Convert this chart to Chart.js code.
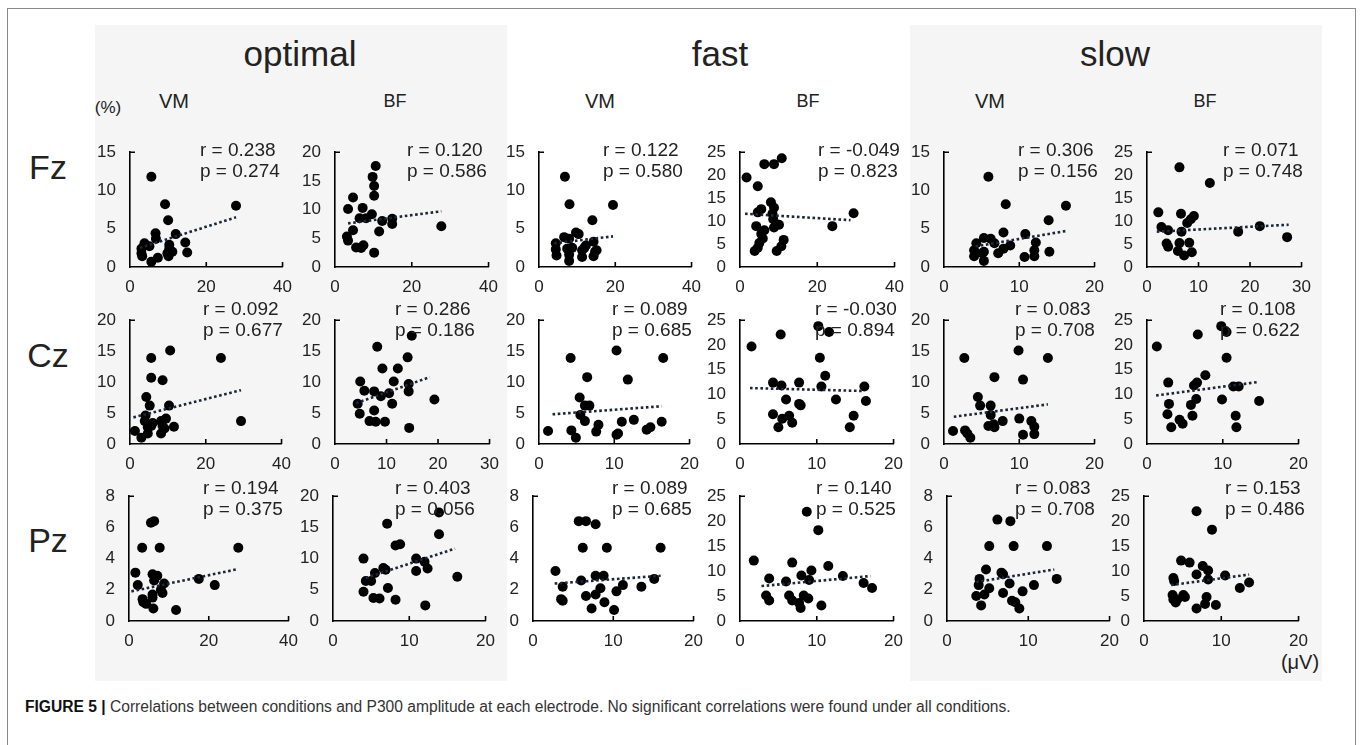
<!DOCTYPE html>
<html>
<head>
<meta charset="utf-8">
<script src="https://cdn.jsdelivr.net/npm/chart.js@4"></script>
<style>
  html, body { margin: 0; padding: 0; background: #fff; }
  body { width: 1360px; height: 745px; position: relative; overflow: hidden;
         font-family: "Liberation Sans", Arial, sans-serif; color: #222; }
  .abs { position: absolute; white-space: nowrap; line-height: 1; }
  .ctr { transform: translate(-50%, -50%); }
  .band { position: absolute; background: #f5f5f5; }
  .frame { position: absolute; left: 7px; top: 8px; width: 1347px; height: 760px; border: 1px solid #8a8a8a; }
  .note { position: absolute; font-size: 19px; line-height: 21px; white-space: nowrap; color: #222; }
  .panel { position: absolute; }
</style>
</head>
<body>
<div class="frame"></div>
<div class="band" style="left:95px; top:25px; width:412px; height:656px;"></div>
<div class="band" style="left:910px; top:25px; width:412px; height:656px;"></div>
<div id="fig"></div>

<script>
// ---- values ----
const conditions = ["optimal", "fast", "slow"];
const muscles = ["VM", "BF"];
const electrodes = ["Fz", "Cz", "Pz"];

// Fz row: [x (µV), y (%)]
const fzOptVM = [[5.6,11.8],[9.2,8.2],[27.8,8.0],[10.0,6.1],[6.7,4.4],[12.0,4.3],[6.8,3.7],[14.5,3.2],[3.8,3.1],[3.0,2.4],[3.0,1.8],[3.2,1.4],[10.3,2.9],[10.3,2.4],[9.8,1.8],[11.1,2.0],[10.1,1.4],[15.0,1.9],[7.3,1.2],[5.6,0.7],[5.1,2.7]];
const fzOptBF = [[10.6,17.6],[9.8,15.7],[10.2,14.1],[10.2,12.4],[4.7,12.1],[3.4,10.1],[7.2,10.3],[9.6,9.2],[6.4,8.5],[8.1,8.5],[12.3,8.0],[14.9,8.4],[14.9,7.5],[27.7,7.1],[11.5,6.2],[4.7,6.4],[3.1,5.3],[3.4,4.6],[5.5,3.4],[6.8,3.3],[7.4,3.8],[10.2,2.5]];
const fzFastVM = [[6.8,11.8],[8.0,8.2],[19.4,8.1],[14.0,6.1],[9.7,4.5],[10.4,4.3],[6.6,3.9],[7.9,3.7],[4.4,3.1],[14.3,3.3],[4.4,2.3],[4.6,1.5],[7.4,2.4],[8.7,2.5],[7.9,1.6],[11.3,2.2],[11.9,2.5],[11.3,1.3],[14.7,2.0],[14.3,1.4],[15.1,2.2],[7.9,0.8],[12.3,2.8]];
const fzFastBF = [[1.7,19.5],[4.6,17.6],[6.3,22.4],[8.8,22.4],[10.8,23.7],[8.0,14.1],[8.8,12.9],[5.5,12.6],[4.6,11.9],[8.4,11.6],[8.6,10.4],[29.4,11.7],[23.9,8.9],[4.2,8.9],[6.3,8.0],[10.1,9.2],[8.8,8.6],[5.9,6.2],[11.3,5.9],[5.0,5.2],[4.6,4.2],[3.8,3.5],[10.7,4.5],[9.5,3.5],[5.5,7.2]];
const fzSlowVM = [[5.9,11.8],[8.2,8.2],[16.2,8.0],[13.9,6.1],[7.9,4.5],[10.8,4.3],[5.3,3.8],[6.2,3.7],[6.7,3.1],[4.3,3.1],[12.2,3.2],[4.0,2.2],[5.3,2.0],[7.2,1.8],[7.9,2.4],[8.8,2.8],[4.0,1.4],[5.1,1.8],[10.7,1.3],[12.0,1.4],[12.0,2.2],[14.0,2.0],[5.3,0.8]];
const fzSlowBF = [[6.3,21.7],[12.2,18.3],[2.2,11.9],[6.6,11.6],[9.1,11.1],[8.5,10.4],[7.8,9.6],[2.8,8.7],[4.1,8.0],[6.7,7.7],[17.7,7.7],[21.9,8.9],[27.2,6.5],[3.8,5.1],[4.1,4.4],[6.3,5.2],[8.2,5.3],[6.0,3.5],[7.2,2.5],[8.7,3.2]];

// Cz row
const czOptVM = [[10.6,15.1],[5.6,13.9],[24.0,13.9],[5.6,10.7],[8.6,10.3],[4.3,7.6],[5.2,6.2],[10.3,6.2],[4.1,4.6],[3.9,3.7],[6.0,3.4],[5.6,2.9],[8.2,3.7],[9.5,4.1],[8.6,2.9],[11.6,2.8],[29.3,3.7],[1.3,2.1],[3.0,1.0],[4.7,1.7],[8.2,1.7],[9.1,2.5],[4.7,2.7]];
const czOptBF = [[14.9,17.5],[8.2,15.7],[14.1,14.0],[9.2,12.2],[12.2,12.2],[4.9,10.1],[11.4,10.1],[14.3,9.7],[14.3,8.5],[5.7,8.6],[7.6,8.5],[10.5,8.2],[8.9,7.7],[19.3,7.2],[4.4,6.5],[11.1,6.5],[7.6,5.4],[4.8,4.9],[6.7,3.7],[7.9,3.6],[9.7,3.6],[14.4,2.6]];
const czFastVM = [[4.2,13.9],[10.3,15.1],[16.5,13.9],[6.4,10.8],[11.8,10.4],[5.4,7.5],[6.1,6.2],[6.7,6.2],[5.5,4.7],[6.1,3.7],[11.0,3.6],[12.6,3.9],[16.3,3.6],[1.2,2.1],[4.3,2.2],[4.9,1.0],[7.9,3.1],[7.6,2.0],[10.3,1.5],[10.5,1.7],[14.3,2.3],[14.8,2.7]];
const czFastBF = [[1.5,19.7],[5.3,22.1],[10.2,23.8],[11.6,22.6],[10.4,17.4],[11.1,13.8],[4.3,12.4],[5.4,11.8],[7.7,12.4],[10.6,11.6],[16.2,11.6],[6.0,9.0],[12.5,9.0],[16.4,8.7],[7.7,8.1],[7.9,7.8],[4.3,6.0],[6.4,5.7],[5.5,5.1],[6.8,4.3],[14.8,5.7],[5.0,3.4],[14.3,3.4]];
const czSlowVM = [[2.7,13.9],[9.9,15.1],[13.8,13.9],[6.7,10.8],[10.5,10.4],[4.5,7.6],[4.8,6.2],[6.2,6.2],[6.2,4.7],[10.0,4.1],[7.8,3.7],[11.6,3.7],[5.9,2.9],[6.6,3.2],[6.7,2.7],[12.0,2.8],[1.2,2.1],[2.8,2.2],[3.1,1.7],[3.5,1.0],[10.5,1.5],[12.0,1.6]];
const czSlowBF = [[1.3,19.7],[6.7,22.1],[9.8,23.8],[10.5,22.6],[10.5,17.4],[7.7,13.9],[2.8,12.4],[6.6,12.4],[6.2,11.8],[11.4,11.6],[12.1,11.6],[2.9,8.1],[6.5,9.1],[9.9,9.0],[14.8,8.7],[5.8,7.9],[2.7,6.0],[6.0,5.7],[11.7,5.7],[4.3,4.9],[4.7,4.1],[3.2,3.4],[11.8,3.4]];

// Pz row
const pzOptVM = [[5.5,6.3],[6.3,6.4],[3.3,4.7],[7.7,4.7],[27.4,4.7],[1.6,3.1],[5.9,3.0],[7.1,2.9],[6.3,2.6],[8.8,2.4],[17.5,2.7],[21.5,2.3],[2.2,2.3],[8.0,2.0],[8.4,1.8],[5.9,1.7],[5.9,1.5],[3.4,1.4],[3.6,1.2],[4.3,1.1],[6.1,0.8],[11.8,0.7]];
const pzOptBF = [[13.9,17.4],[7.1,15.6],[13.9,13.9],[8.2,12.1],[8.8,12.3],[4.0,10.0],[10.9,10.0],[12.0,9.5],[12.4,8.4],[10.9,8.0],[6.6,8.5],[5.5,7.7],[16.3,7.1],[4.3,6.4],[5.0,6.4],[4.0,4.7],[7.2,5.3],[5.3,3.7],[6.1,3.6],[8.2,3.4],[12.1,2.5],[6.9,8.2]];
const pzFastVM = [[5.7,6.4],[6.6,6.4],[7.8,6.2],[6.2,4.7],[9.2,4.7],[15.9,4.7],[2.8,3.2],[7.8,2.9],[8.8,2.9],[6.0,2.6],[8.4,2.1],[3.7,2.2],[11.2,2.3],[13.5,2.2],[15.1,2.7],[3.5,1.4],[3.7,1.3],[6.6,1.6],[7.8,1.7],[10.4,1.9],[8.9,1.2],[7.3,0.8],[10.1,0.7]];
const pzFastBF = [[8.7,21.9],[10.2,18.2],[1.8,12.1],[6.8,11.7],[11.5,11.0],[9.3,10.1],[8.0,9.1],[13.4,9.0],[3.8,8.5],[6.0,7.9],[9.0,8.2],[16.1,7.6],[17.2,6.6],[3.4,5.1],[3.8,4.1],[6.4,5.1],[8.3,5.1],[8.9,4.5],[6.8,4.1],[7.7,3.6],[7.9,2.6],[10.6,3.1]];
const pzSlowVM = [[6.2,6.5],[7.8,6.4],[5.2,4.8],[8.2,4.8],[12.3,4.8],[4.8,3.3],[6.7,3.1],[6.9,3.0],[4.0,2.7],[13.5,2.7],[3.9,2.3],[7.7,2.4],[10.7,2.3],[5.2,2.1],[9.3,1.9],[3.6,1.6],[4.6,1.7],[6.9,1.8],[8.0,1.3],[8.4,1.2],[4.2,1.0],[8.9,0.8]];
const pzSlowBF = [[6.8,22.0],[8.8,18.3],[4.8,12.1],[5.9,11.7],[7.6,11.0],[8.3,10.1],[6.8,9.3],[10.5,9.1],[8.3,8.3],[3.8,8.6],[3.9,8.0],[12.4,6.6],[13.6,7.7],[3.7,5.2],[5.1,5.2],[3.8,4.3],[4.1,3.7],[5.3,4.8],[8.1,4.8],[7.9,3.4],[6.8,2.5],[9.3,3.2],[4.3,4.3]];

// dotted trend lines as drawn in the figure: [start, end]
const trends = [
  [[2.6,2.5],[27.8,6.5]], [[3.4,7.6],[27.7,9.7]], [[4.0,3.1],[19.4,4.0]],
  [[1.3,11.6],[28.6,10.2]], [[4.2,2.7],[16.2,4.7]], [[1.9,7.7],[27.5,9.2]],
  [[0.9,4.3],[29.3,8.7]], [[4.1,6.6],[18.4,10.8]], [[1.8,4.8],[16.3,6.1]],
  [[1.3,11.3],[16.2,10.7]], [[1.3,4.4],[13.8,6.4]], [[1.2,9.8],[14.6,12.5]],
  [[0.6,1.9],[26.8,3.3]], [[4.3,6.9],[16.0,11.6]], [[2.7,2.4],[15.9,2.9]],
  [[2.8,7.0],[17.0,9.0]], [[3.6,2.5],[13.2,3.3]], [[3.5,7.2],[13.6,9.3]]
];

const rValues = ["0.238","0.120","0.122","-0.049","0.306","0.071",
                 "0.092","0.286","0.089","-0.030","0.083","0.108",
                 "0.194","0.403","0.089","0.140","0.083","0.153"];
const pValues = ["0.274","0.586","0.580","0.823","0.156","0.748",
                 "0.677","0.186","0.685","0.894","0.708","0.622",
                 "0.375","0.056","0.685","0.525","0.708","0.486"];

// axis ranges: [max, step]
const xAxes = [[40,20],[40,20],[40,20],[40,20],[20,10],[30,10],
               [40,20],[30,10],[20,10],[20,10],[20,10],[20,10],
               [40,20],[20,10],[20,10],[20,10],[20,10],[20,10]];
const yAxes = [[15,5],[20,5],[15,5],[25,5],[15,5],[25,5],
               [20,5],[20,5],[20,5],[25,5],[20,5],[25,5],
               [8,2],[20,5],[8,2],[25,5],[8,2],[25,5]];

const seriesList = [fzOptVM, fzOptBF, fzFastVM, fzFastBF, fzSlowVM, fzSlowBF,
                    czOptVM, czOptBF, czFastVM, czFastBF, czSlowVM, czSlowBF,
                    pzOptVM, pzOptBF, pzFastVM, pzFastBF, pzSlowVM, pzSlowBF];

// ---- layout (pixel boxes of each plot area: left, top, right, bottom) ----
const boxes = [
  [130,140,286,267],[335,140,492,267],[539,140,695,267],[740,140,898,267],[944,140,1098,267],[1147,140,1305,267],
  [130,308,285,444],[335,308,493,444],[539,308,693,444],[740,308,897,444],[944,308,1098,444],[1147,308,1302,444],
  [129,484,292,621],[333,484,489,621],[533,484,697,621],[740,484,897,621],[947,484,1113,621],[1144,484,1302,621]
];
const notePos = [
  [200,149],[407,149],[603,149],[818,149],[1018,149],[1223,149],
  [203,308],[395,308],[612,308],[815,308],[1015,308],[1220,308],
  [203,487],[395,487],[612,487],[816,487],[1015,487],[1225,487]
];
const headerX = [300, 720, 1115];
const subX = [174, 395, 600, 808, 990, 1205];
const rowY = [167, 355, 540];

const fig = document.getElementById("fig");
const FONT = '"Liberation Sans", Arial, sans-serif';

function addText(txt, x, y, size, extra) {
  const d = document.createElement("div");
  d.className = "abs ctr";
  d.textContent = txt;
  d.style.left = x + "px";
  d.style.top = y + "px";
  d.style.fontSize = size + "px";
  if (extra) d.style.cssText += extra;
  fig.appendChild(d);
  return d;
}

conditions.forEach((c, i) => addText(c, headerX[i], 53, 35));
subX.forEach((x, i) => addText(muscles[i % 2], x, 101, i % 2 ? 18 : 20));
addText("(%)", 108, 107, 17);
electrodes.forEach((e, i) => addText(e, 48, rowY[i], 34));
addText("(\u03bcV)", 1300, 662, 20);

// inward tick stubs like the spreadsheet axes
const innerTicks = {
  id: "innerTicks",
  afterDraw(chart) {
    const { ctx, chartArea: a } = chart;
    const x = chart.scales.x, y = chart.scales.y;
    ctx.save();
    ctx.strokeStyle = "#000";
    ctx.lineWidth = 1.6;
    ctx.beginPath();
    x.ticks.forEach(t => {
      if (t.value <= 0) return;
      const px = x.getPixelForValue(t.value);
      ctx.moveTo(px, a.bottom);
      ctx.lineTo(px, a.bottom - 5);
    });
    const py = y.getPixelForValue(y.max);
    ctx.moveTo(a.left, py);
    ctx.lineTo(a.left + 5, py);
    ctx.stroke();
    ctx.restore();
  }
};

const Y_W = 40, X_H = 32, PAD_T = 12, PAD_R = 16;

seriesList.forEach((pts, i) => {
  const [l, t, r, b] = boxes[i];
  const w = r - l + Y_W + PAD_R;
  const h = b - t + PAD_T + X_H;
  const wrap = document.createElement("div");
  wrap.className = "panel";
  wrap.style.left = (l - Y_W) + "px";
  wrap.style.top = (t - PAD_T) + "px";
  const canvas = document.createElement("canvas");
  canvas.width = w;
  canvas.height = h;
  wrap.appendChild(canvas);
  fig.appendChild(wrap);

  const tickFont = { family: FONT, size: 17 };
  new Chart(canvas, {
    type: "scatter",
    data: {
      datasets: [
        {
          type: "line",
          data: trends[i].map(p => ({ x: p[0], y: p[1] })),
          borderColor: "#1b2638",
          borderWidth: 2.6,
          borderDash: [2.6, 2.6],
          pointRadius: 0,
          fill: false
        },
        {
          data: pts.map(p => ({ x: p[0], y: p[1] })),
          backgroundColor: "#000",
          borderWidth: 0,
          pointRadius: 5
        }
      ]
    },
    options: {
      responsive: false,
      animation: false,
      layout: { padding: { top: PAD_T, right: PAD_R, left: 0, bottom: 0 } },
      plugins: { legend: { display: false }, tooltip: { enabled: false } },
      scales: {
        x: {
          type: "linear",
          min: 0,
          max: xAxes[i][0],
          afterFit: s => { s.height = X_H; },
          ticks: { stepSize: xAxes[i][1], padding: 10, color: "#222", font: tickFont, maxRotation: 0, autoSkip: false },
          grid: { drawOnChartArea: false, drawTicks: false },
          border: { color: "#000", width: 1.6 }
        },
        y: {
          type: "linear",
          min: 0,
          max: yAxes[i][0],
          afterFit: s => { s.width = Y_W; },
          ticks: { stepSize: yAxes[i][1], padding: 14, color: "#222", font: tickFont, autoSkip: false },
          grid: { drawOnChartArea: false, drawTicks: false },
          border: { color: "#000", width: 1.6 }
        }
      }
    },
    plugins: [innerTicks]
  });

  const note = document.createElement("div");
  note.className = "note";
  note.style.left = notePos[i][0] + "px";
  note.style.top = (notePos[i][1] - 10) + "px";
  note.innerHTML = "r = " + rValues[i] + "<br>p = " + pValues[i];
  fig.appendChild(note);
});

const cap = document.createElement("div");
cap.className = "abs";
cap.style.cssText += "left:25px; top:699px; font-size:15.6px; color:#333;";
cap.innerHTML = '<b style="color:#111">FIGURE 5 |</b> Correlations between conditions and P300 amplitude at each electrode. No significant correlations were found under all conditions.';
fig.appendChild(cap);
</script>
</body>
</html>
